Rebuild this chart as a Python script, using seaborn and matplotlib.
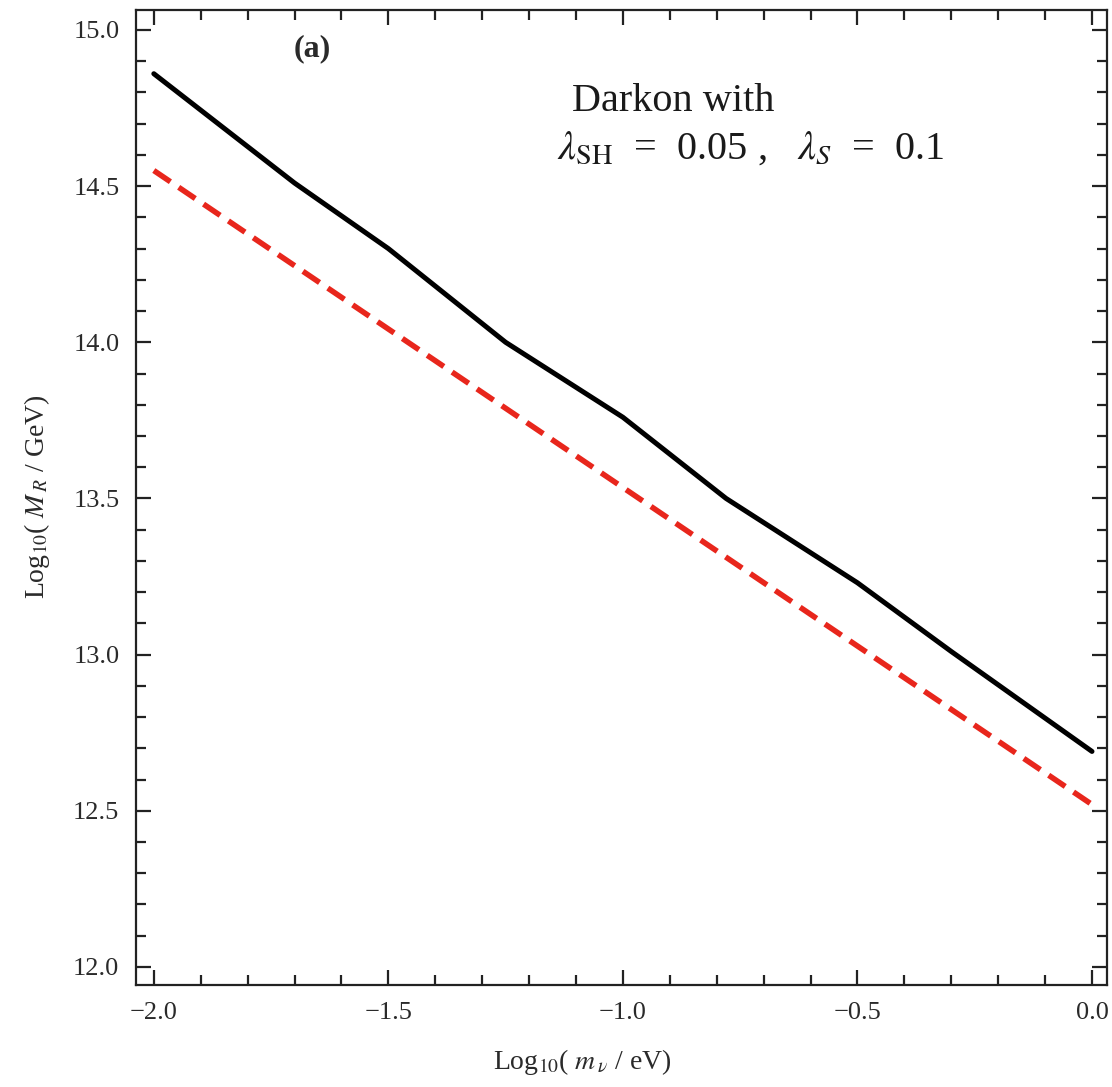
import numpy as np
import pandas as pd
import matplotlib
matplotlib.use("Agg")
import matplotlib.pyplot as plt
import seaborn as sns
from matplotlib.ticker import MultipleLocator, FuncFormatter

# ---- data ----
black_x = [-2.0, -1.7, -1.5, -1.25, -1.0, -0.78, -0.5, -0.3, 0.0]
black_y = [14.86, 14.51, 14.30, 14.00, 13.76, 13.50, 13.23, 13.01, 12.69]
red_x = [-2.0, 0.0]
red_y = [14.55, 12.52]

x_ticks = [-2.0, -1.5, -1.0, -0.5, 0.0]
y_ticks = [12.0, 12.5, 13.0, 13.5, 14.0, 14.5, 15.0]

df = pd.concat([
    pd.DataFrame({"x": black_x, "y": black_y, "curve": "black"}),
    pd.DataFrame({"x": red_x, "y": red_y, "curve": "red"}),
])

sns.set_theme(style="ticks")
plt.rcParams["font.family"] = ["Liberation Serif", "DejaVu Serif"]
plt.rcParams["mathtext.fontset"] = "stix"

fig = plt.figure(figsize=(11.12, 10.87), dpi=100)
ax = fig.add_axes([0.1223, 0.0938, 0.9955 - 0.1223, 0.9908 - 0.0938])

sns.lineplot(data=df[df.curve == "black"], x="x", y="y", ax=ax,
             color="black", linewidth=3.6, sort=False, estimator=None)
sns.lineplot(data=df[df.curve == "red"], x="x", y="y", ax=ax,
             color="#e8261c", linewidth=4.0, sort=False, estimator=None)
ax.lines[1].set_dashes([3.6, 1.8])

ax.set_xlim(-2.038, 0.032)
ax.set_ylim(11.942, 15.064)
ax.set_xticks(x_ticks)
ax.set_yticks(y_ticks)
ax.xaxis.set_minor_locator(MultipleLocator(0.1))
ax.yaxis.set_minor_locator(MultipleLocator(0.1))


def fmt(v, pos):
    s = "%.1f" % abs(v)
    if v < -1e-9:
        return "\u2212" + s
    return s


ax.xaxis.set_major_formatter(FuncFormatter(fmt))
ax.yaxis.set_major_formatter(FuncFormatter(fmt))
ax.tick_params(which="both", direction="in", top=True, right=True,
               labeltop=False, labelright=False, color="#222222", width=1.6)
ax.tick_params(which="major", length=11, labelsize=19, labelcolor="#2a2a2a")
ax.tick_params(axis="x", which="major", pad=12)
ax.tick_params(axis="y", which="major", pad=12)
ax.tick_params(which="minor", length=7)
for s in ax.spines.values():
    s.set_linewidth(1.6)
    s.set_color("#222222")

ax.set_xlabel(r"Log$_{10}$( $m_{\,\nu}$ / eV)", fontsize=20, color="#2a2a2a")
ax.set_ylabel(r"Log$_{10}$( $M_{\,R}$ / GeV)", fontsize=20, color="#2a2a2a")
ax.xaxis.set_label_coords((582 - 136) / (1107 - 136), -(1047 - 985) / (985 - 10))
ax.yaxis.set_label_coords(-(136 - 52) / (1107 - 136), (985 - 497) / (985 - 10))

ax.text(-1.663, 14.94, "(a)", fontsize=23, fontweight="bold", color="#2a2a2a",
        ha="center", va="center")
ax.text(-1.109, 14.77, "Darkon with", fontsize=29, color="#1a1a1a",
        ha="left", va="center")
ax.text(-1.14, 14.62, r"$\lambda_{\mathrm{SH}}$  =  0.05 ,   $\lambda_S$  =  0.1",
        fontsize=29, color="#1a1a1a", ha="left", va="center")

fig.savefig("out.png", dpi=100, facecolor="white")
